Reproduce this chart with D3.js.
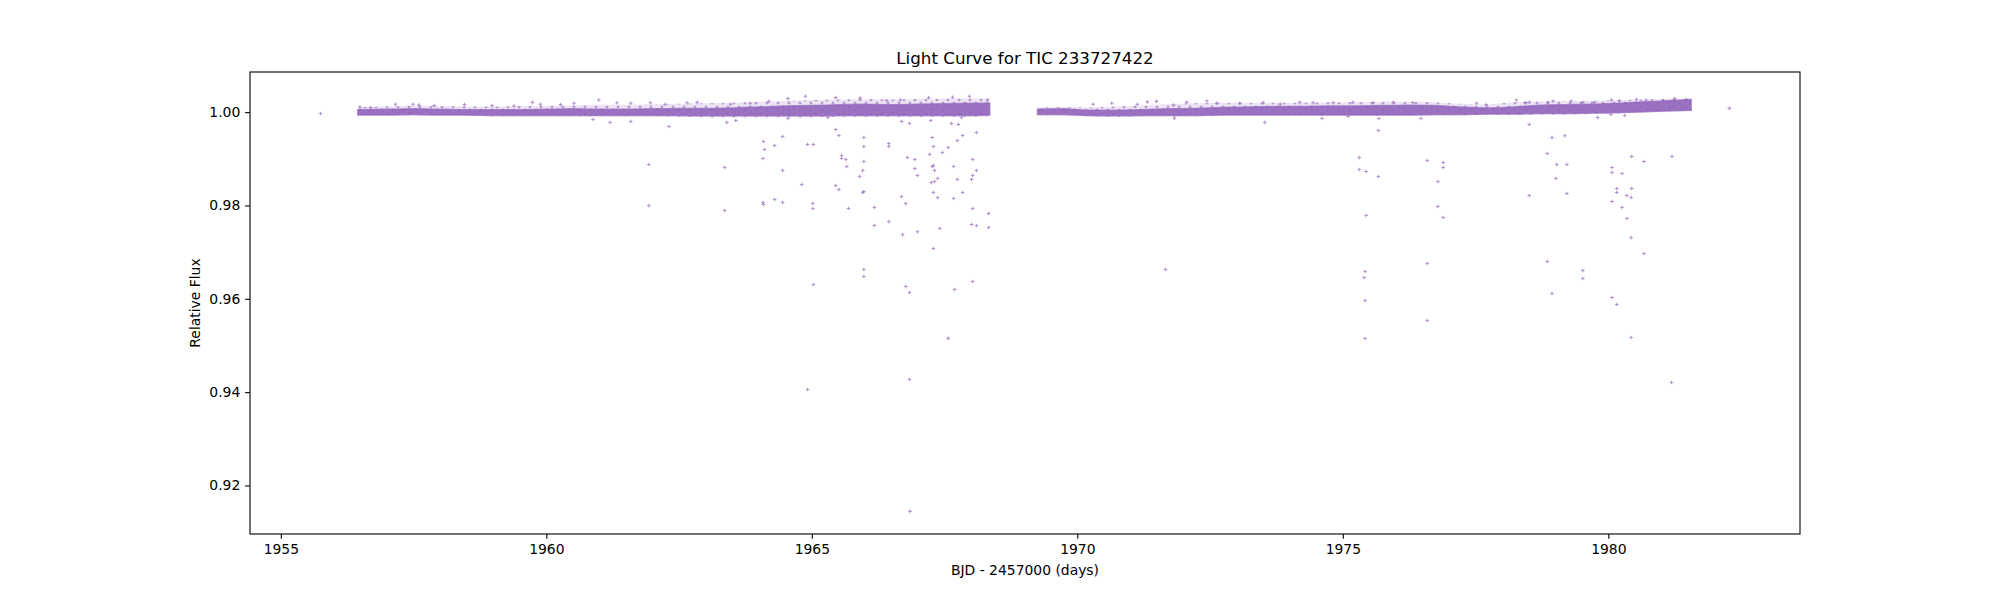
<!DOCTYPE html>
<html>
<head>
<meta charset="utf-8">
<script src="https://cdn.jsdelivr.net/npm/d3@7"></script>
<style>
  body { margin: 0; background: #fff; }
  svg text { font-family: "DejaVu Sans", sans-serif; fill: #000; }
</style>
</head>
<body>
<svg id="chart"></svg>
<script>
// axis limits and ticks
var xLim = [1954.42, 1983.61];
var yLim = [0.9096, 1.0086];
var xTicks = [1955, 1960, 1965, 1970, 1975, 1980];
var yTicks = [0.92, 0.94, 0.96, 0.98, 1.00];

// dense part of the light curve, orbit 1: time, core band and outer scatter band
var seg1T = [1956.45, 1957.0, 1957.5, 1958.0, 1958.5, 1959.0, 1959.5, 1960.0, 1960.5, 1961.0, 1961.5, 1962.0, 1962.5,
             1963.0, 1963.5, 1964.0, 1964.5, 1965.0, 1965.5, 1966.0, 1966.5, 1967.0, 1967.5, 1968.0, 1968.35];
var seg1Lo = [0.9994, 0.9994, 0.9995, 0.9994, 0.9994, 0.9993, 0.9993, 0.9993, 0.9993, 0.9993, 0.9993, 0.9993, 0.9993,
              0.9992, 0.9992, 0.9992, 0.9992, 0.9992, 0.9993, 0.9993, 0.9993, 0.9993, 0.9993, 0.9993, 0.9994];
var seg1Hi = [1.0005, 1.0006, 1.0007, 1.0006, 1.0005, 1.0005, 1.0005, 1.0006, 1.0007, 1.0006, 1.0006, 1.0007, 1.0008,
              1.0008, 1.0009, 1.0011, 1.0013, 1.0014, 1.0016, 1.0017, 1.0016, 1.0017, 1.0018, 1.0019, 1.0019];
var seg1OutLo = [0.9992, 0.9992, 0.9993, 0.9992, 0.9992, 0.9991, 0.9991, 0.9991, 0.9991, 0.9991, 0.9991, 0.9991, 0.9990,
                 0.9989, 0.9989, 0.9989, 0.9989, 0.9989, 0.9990, 0.9990, 0.9990, 0.9990, 0.9990, 0.9990, 0.9991];
var seg1OutHi = [1.0011, 1.0012, 1.0014, 1.0013, 1.0012, 1.0012, 1.0013, 1.0014, 1.0015, 1.0016, 1.0016, 1.0017, 1.0018,
                 1.0019, 1.0020, 1.0022, 1.0024, 1.0026, 1.0027, 1.0028, 1.0027, 1.0028, 1.0029, 1.0030, 1.0029];

// orbit 2
var seg2T = [1969.25, 1969.7, 1970.2, 1970.7, 1971.2, 1971.7, 1972.2, 1972.7, 1973.2, 1973.7, 1974.2, 1974.7, 1975.2,
             1975.7, 1976.2, 1976.7, 1977.2, 1977.7, 1978.2, 1978.7, 1979.2, 1979.7, 1980.2, 1980.7, 1981.2, 1981.56];
var seg2Lo = [0.9995, 0.9995, 0.9993, 0.9992, 0.9993, 0.9993, 0.9993, 0.9994, 0.9994, 0.9994, 0.9994, 0.9994, 0.9994,
              0.9994, 0.9994, 0.9995, 0.9995, 0.9996, 0.9996, 0.9997, 0.9997, 0.9998, 0.9999, 1.0001, 1.0003, 1.0004];
var seg2Hi = [1.0006, 1.0007, 1.0004, 1.0004, 1.0005, 1.0007, 1.0008, 1.0010, 1.0011, 1.0012, 1.0012, 1.0013, 1.0013,
              1.0014, 1.0015, 1.0014, 1.0011, 1.0009, 1.0011, 1.0015, 1.0016, 1.0017, 1.0019, 1.0022, 1.0025, 1.0027];
var seg2OutLo = [0.9993, 0.9993, 0.9991, 0.9990, 0.9991, 0.9991, 0.9991, 0.9992, 0.9992, 0.9992, 0.9992, 0.9992, 0.9992,
                 0.9992, 0.9992, 0.9993, 0.9993, 0.9994, 0.9994, 0.9995, 0.9995, 0.9996, 0.9997, 0.9999, 1.0001, 1.0002];
var seg2OutHi = [1.0010, 1.0011, 1.0010, 1.0012, 1.0015, 1.0017, 1.0019, 1.0020, 1.0020, 1.0020, 1.0020, 1.0021, 1.0021,
                 1.0022, 1.0022, 1.0021, 1.0018, 1.0016, 1.0021, 1.0023, 1.0024, 1.0024, 1.0026, 1.0027, 1.0029, 1.0030];

// single points: stray points above the band and the dips below it
var ptT = [1955.75, 1982.28,
  1956.49, 1956.69, 1957.16, 1957.49, 1957.60, 1957.89, 1958.46, 1958.98, 1959.39, 1959.74, 1959.89, 1960.27, 1960.52,
  1960.99, 1961.33, 1961.59, 1961.96, 1962.24, 1962.65, 1962.84, 1963.47, 1963.84, 1964.19, 1964.55, 1964.88, 1965.45,
  1965.91, 1966.41, 1966.67, 1967.20, 1967.65, 1967.97, 1968.31,
  1970.30, 1970.65, 1971.13, 1971.32, 1971.49, 1971.81, 1972.06, 1972.44, 1972.62, 1973.06, 1973.50, 1973.82, 1974.19,
  1974.44, 1974.82, 1975.19, 1975.57, 1975.95, 1976.32, 1977.52, 1977.70, 1978.27, 1978.43, 1978.51, 1978.86, 1978.96,
  1979.30, 1979.52, 1979.74, 1980.06, 1980.21, 1980.53, 1980.71, 1981.03, 1981.25, 1981.47,
  1960.88, 1961.20, 1961.59, 1961.93, 1961.93, 1962.31, 1963.36, 1963.36, 1963.40, 1963.57, 1964.08, 1964.09, 1964.11,
  1964.08, 1964.09, 1964.30, 1964.30, 1964.45, 1964.45, 1964.45, 1964.55, 1964.81, 1964.92, 1965.03, 1965.02, 1965.02,
  1965.03, 1965.30, 1965.45, 1965.51, 1965.45, 1965.51, 1965.56, 1965.56, 1965.64, 1965.66, 1965.69, 1965.90, 1965.96,
  1965.96, 1965.98, 1965.98, 1965.98, 1965.98, 1965.98, 1965.98, 1966.18, 1966.18, 1966.45, 1966.45, 1966.45, 1966.69,
  1966.84, 1966.69, 1966.77, 1966.80, 1966.71, 1966.77, 1966.84, 1966.94, 1966.94, 1966.99, 1966.99, 1967.24, 1967.27,
  1967.29, 1967.22, 1967.27, 1967.29, 1967.31, 1967.25, 1967.31, 1967.37, 1967.29, 1967.37, 1967.41, 1967.29, 1967.46,
  1967.57, 1967.63, 1967.76, 1967.74, 1967.84, 1967.82, 1967.67, 1967.74, 1967.67, 1967.84, 1967.69, 1968.03, 1968.03,
  1968.01, 1968.10, 1968.10, 1968.03, 1968.01, 1968.10, 1968.03, 1968.33, 1968.33,
  1967.57, 1966.84, 1964.92, 1966.85,
  1971.66, 1973.53, 1974.61, 1971.83,
  1975.10, 1975.68, 1975.67, 1976.47, 1975.31, 1975.31, 1975.44, 1975.67, 1975.44, 1975.42, 1975.40, 1975.42, 1975.42,
  1976.59, 1976.89, 1976.89, 1976.79, 1976.79, 1976.89, 1976.59, 1976.59, 1978.51, 1978.94, 1979.18, 1978.85, 1979.03,
  1979.22, 1979.01, 1978.51, 1979.22, 1978.85, 1979.52, 1979.52, 1978.94, 1979.80, 1980.05, 1980.31, 1980.44, 1980.67,
  1981.20, 1980.07, 1980.07, 1980.26, 1980.16, 1980.44, 1980.16, 1980.35, 1980.43, 1980.07, 1980.26, 1980.35, 1980.43,
  1980.67, 1980.07, 1980.16, 1980.43, 1981.19];
var ptF = [0.99972, 1.0008,
  1.0011, 1.0010, 1.0017, 1.0017, 1.0015, 1.0014, 1.0016, 1.0014, 1.0013, 1.0021, 1.0017, 1.0016, 1.0019,
  1.0026, 1.0020, 1.0019, 1.0020, 1.0017, 1.0020, 1.0021, 1.0017, 1.0019, 1.0023, 1.0029, 1.0034, 1.0031,
  1.0030, 1.0025, 1.0026, 1.0031, 1.0032, 1.0034, 1.0026,
  1.0017, 1.0019, 1.0017, 1.0022, 1.0023, 1.0015, 1.0021, 1.0024, 1.0019, 1.0019, 1.0020, 1.0017, 1.0021,
  1.0020, 1.0020, 1.0021, 1.0020, 1.0021, 1.0020, 1.0019, 1.0016, 1.0026, 1.0020, 1.0021, 1.0021, 1.0024,
  1.0024, 1.0021, 1.0021, 1.0026, 1.0024, 1.0027, 1.0026, 1.0024, 1.0029, 1.0027,
  0.99843, 0.99779, 0.99800, 0.98879, 0.98000, 0.99693, 0.98815, 0.97893, 0.99779, 0.99822, 0.99007, 0.99372, 0.99200,
  0.98065, 0.98022, 0.99286, 0.98129, 0.99479, 0.98750, 0.98065, 0.99864, 0.98450, 0.99307, 0.99307, 0.98043, 0.97936,
  0.96307, 0.99886, 0.99629, 0.99500, 0.98429, 0.98343, 0.99072, 0.99007, 0.98986, 0.98836, 0.97936, 0.98622, 0.98750,
  0.98279, 0.98300, 0.99457, 0.99264, 0.98943, 0.96629, 0.96479, 0.97957, 0.97571, 0.99329, 0.99264, 0.97657, 0.99800,
  0.99757, 0.98193, 0.98043, 0.99029, 0.97372, 0.96265, 0.96136, 0.98986, 0.98793, 0.98643, 0.97436, 0.99822, 0.99457,
  0.99264, 0.99093, 0.98836, 0.98857, 0.98750, 0.98493, 0.98515, 0.98579, 0.98279, 0.98172, 0.97507, 0.97079, 0.99136,
  0.99243, 0.99757, 0.99736, 0.99393, 0.99500, 0.99886, 0.98836, 0.98557, 0.98150, 0.98279, 0.96200, 0.98986, 0.98643,
  0.98557, 0.98750, 0.99564, 0.97936, 0.97593, 0.97571, 0.96372, 0.97829, 0.97529,
  0.95151, 0.94272, 0.94058, 0.91444,
  0.96629, 0.99779, 0.99865, 0.99871,
  0.99907, 0.99864, 0.99607, 0.99864, 0.99029, 0.98772, 0.98729, 0.98622, 0.97786, 0.96586, 0.96458, 0.95965, 0.95150,
  0.98965, 0.98922, 0.98814, 0.98515, 0.97979, 0.97743, 0.96757, 0.95536, 0.99736, 0.99457, 0.99493, 0.99114, 0.98879,
  0.98879, 0.98579, 0.98215, 0.98257, 0.96800, 0.96607, 0.96436, 0.96115, 0.99886, 0.99950, 0.99929, 0.99050, 0.98943,
  0.99050, 0.98814, 0.98707, 0.98686, 0.98365, 0.98365, 0.98279, 0.98215, 0.98172, 0.98086, 0.97957, 0.97722, 0.97315,
  0.96972, 0.96029, 0.95879, 0.95172, 0.94208];

var title = "Light Curve for TIC 233727422";
var xLabel = "BJD - 2457000 (days)";
var yLabel = "Relative Flux";

var width = 2000, height = 600;
var axLeft = 250, axRight = 1800, axTop = 72, axBottom = 534;
var purple = "#9467bd";

var svg = d3.select("#chart")
    .attr("width", width)
    .attr("height", height);

var x = d3.scaleLinear().domain(xLim).range([axLeft, axRight]);
var y = d3.scaleLinear().domain(yLim).range([axBottom, axTop]);

var defs = svg.append("defs");
defs.append("clipPath").attr("id", "plotclip")
  .append("rect")
    .attr("x", axLeft).attr("y", axTop)
    .attr("width", axRight - axLeft).attr("height", axBottom - axTop);

// speckle texture for the loose edge of the band (many overlapping '+' marks)
var pat = defs.append("pattern")
    .attr("id", "speckle")
    .attr("patternUnits", "userSpaceOnUse")
    .attr("width", 11).attr("height", 7);
pat.append("path")
    .attr("d", "M0.5,2H3.5M2,0.5V3.5M6.5,5H9.5M8,3.5V6.5")
    .attr("stroke", purple)
    .attr("stroke-opacity", 0.7)
    .attr("stroke-width", 1)
    .attr("fill", "none");

var plot = svg.append("g").attr("clip-path", "url(#plotclip)");

function bandRows(t, lo, hi) {
  return t.map(function(d, i) { return { t: d, lo: lo[i], hi: hi[i] }; });
}

var band = d3.area()
    .x(function(d) { return x(d.t); })
    .y0(function(d) { return y(d.lo); })
    .y1(function(d) { return y(d.hi); })
    .curve(d3.curveMonotoneX);

var outerBands = [bandRows(seg1T, seg1OutLo, seg1OutHi), bandRows(seg2T, seg2OutLo, seg2OutHi)];
var coreBands = [bandRows(seg1T, seg1Lo, seg1Hi), bandRows(seg2T, seg2Lo, seg2Hi)];

plot.selectAll("path.outer")
    .data(outerBands)
    .enter()
    .append("path")
    .attr("class", "outer")
    .attr("d", band)
    .attr("fill", purple)
    .attr("fill-opacity", 0.18);

plot.selectAll("path.speck")
    .data(outerBands)
    .enter()
    .append("path")
    .attr("class", "speck")
    .attr("d", band)
    .attr("fill", "url(#speckle)");

plot.selectAll("path.core")
    .data(coreBands)
    .enter()
    .append("path")
    .attr("class", "core")
    .attr("d", band)
    .attr("fill", purple)
    .attr("fill-opacity", 0.92)
    .attr("stroke", purple)
    .attr("stroke-opacity", 0.7)
    .attr("stroke-width", 1.5);

// '+' markers
plot.selectAll("path.pt")
    .data(ptT)
    .enter()
    .append("path")
    .attr("class", "pt")
    .attr("transform", function(d, i) {
      return "translate(" + x(d) + "," + y(ptF[i]) + ")";
    })
    .attr("d", "M-1.8,0H1.8M0,-1.8V1.8")
    .attr("stroke", purple)
    .attr("stroke-opacity", 0.7)
    .attr("stroke-width", 1.1)
    .attr("fill", "none");

// axes
var xAxis = d3.axisBottom(x).tickValues(xTicks).tickSize(4.86).tickPadding(4.86)
    .tickFormat(d3.format("d"));
var yAxis = d3.axisLeft(y).tickValues(yTicks).tickSize(4.86).tickPadding(4.86)
    .tickFormat(d3.format(".2f"));

var gx = svg.append("g").attr("transform", "translate(0," + axBottom + ")").call(xAxis);
var gy = svg.append("g").attr("transform", "translate(" + axLeft + ",0)").call(yAxis);

[gx, gy].forEach(function(g) {
  g.select(".domain").remove();
  g.selectAll(".tick line").attr("stroke", "#000").attr("stroke-width", 1.1);
  g.selectAll(".tick text")
    .attr("font-family", "DejaVu Sans")
    .attr("font-size", "13.9px")
    .attr("fill", "#000");
});

svg.append("rect")
    .attr("x", axLeft).attr("y", axTop)
    .attr("width", axRight - axLeft).attr("height", axBottom - axTop)
    .attr("fill", "none")
    .attr("stroke", "#000")
    .attr("stroke-width", 1.1);

svg.append("text")
    .attr("x", (axLeft + axRight) / 2)
    .attr("y", 64)
    .attr("text-anchor", "middle")
    .attr("font-size", "16.7px")
    .text(title);

svg.append("text")
    .attr("x", (axLeft + axRight) / 2)
    .attr("y", 575)
    .attr("text-anchor", "middle")
    .attr("font-size", "13.9px")
    .text(xLabel);

svg.append("text")
    .attr("transform", "translate(200," + (axTop + axBottom) / 2 + ") rotate(-90)")
    .attr("text-anchor", "middle")
    .attr("font-size", "13.9px")
    .text(yLabel);
</script>
</body>
</html>
